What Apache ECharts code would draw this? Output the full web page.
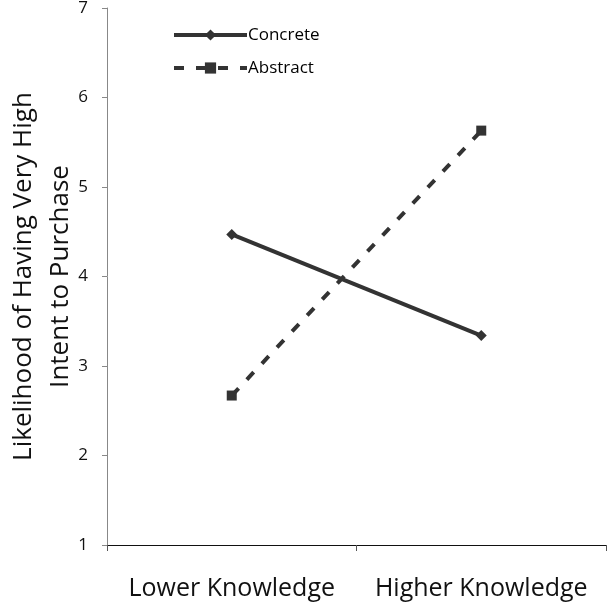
<!DOCTYPE html>
<html><head><meta charset="utf-8">
<script src="https://cdn.jsdelivr.net/npm/echarts@6/dist/echarts.min.js"></script>
<style>html,body{margin:0;padding:0;background:#fff}#c{width:613px;height:613px}</style>
</head><body><div id="c"></div>
<script>
var categories = ['Lower Knowledge', 'Higher Knowledge'];
var concrete = [4.47, 3.34];
var abstract = [2.67, 5.63];
var yTicks = [1, 2, 3, 4, 5, 6, 7];

var chart = echarts.init(document.getElementById('c'));
var font = '"Open Sans", Lato, sans-serif';
chart.setOption({
  animation: false,
  textStyle: {fontFamily: font},
  grid: {left: 107, right: 7, top: 8, bottom: 68, containLabel: false, outerBoundsMode: 'none'},
  legend: {
    left: 172, top: 26, orient: 'vertical', itemGap: 15, padding: 0,
    itemWidth: 73, itemHeight: 14,
    lineStyle: {width: 4},
    textStyle: {fontSize: 17, color: '#000', fontFamily: font, padding: [0, 0, 0, -4], lineHeight: 18},
    data: ['Concrete', 'Abstract']
  },
  xAxis: {
    type: 'category', data: categories, boundaryGap: true,
    axisLine: {lineStyle: {color: '#111', width: 1}},
    axisTick: {show: true, length: 6, interval: 0, lineStyle: {color: '#555'}},
    axisLabel: {fontSize: 25, color: '#111', margin: 31, interval: 0, fontFamily: font}
  },
  yAxis: {
    type: 'value', min: 1, max: 7, interval: 1,
    splitLine: {show: false},
    axisLine: {show: true, lineStyle: {color: '#888', width: 1}},
    axisTick: {show: true, length: 5, lineStyle: {color: '#888'}},
    axisLabel: {fontSize: 17, color: '#111', margin: 19, fontFamily: font,
      formatter: function (v) { return yTicks.indexOf(v) >= 0 ? String(v) : ''; }},
    name: 'Likelihood of Having Very High\nIntent to Purchase',
    nameLocation: 'middle', nameRotate: 90, nameGap: 28, nameMoveOverlap: false,
    nameTextStyle: {fontSize: 26, color: '#111', lineHeight: 37, fontFamily: font}
  },
  series: [
    {
      name: 'Concrete', type: 'line', data: concrete,
      symbol: 'diamond', symbolSize: 11,
      lineStyle: {color: '#333', width: 4},
      itemStyle: {color: '#333'}
    },
    {
      name: 'Abstract', type: 'line', data: abstract,
      symbol: 'rect', symbolSize: 10,
      lineStyle: {color: '#333', width: 4, type: [10, 12]},
      itemStyle: {color: '#333'}
    }
  ]
});
</script></body></html>
